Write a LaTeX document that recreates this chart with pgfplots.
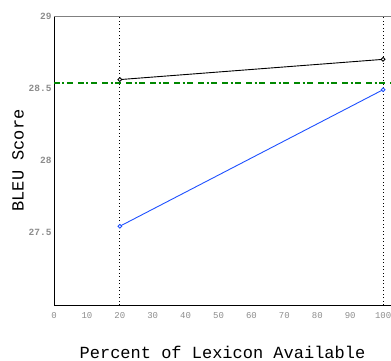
\documentclass[border=0pt]{standalone}
\usepackage{fontspec}
\setmainfont{Liberation Mono}
\setmonofont{Liberation Mono}
\usepackage{pgfplots}
\pgfplotsset{compat=1.18}
\definecolor{tickgray}{RGB}{140,140,140}
\definecolor{bleublue}{RGB}{30,80,255}
\definecolor{basegreen}{RGB}{0,136,0}
\begin{document}
\begin{tikzpicture}[x=1pt,y=1pt]
\useasboundingbox (-54pt,-55pt) rectangle (337pt,305pt);
\begin{axis}[
  at={(0pt,0pt)}, anchor=origin,
  scale only axis, width=337pt, height=289pt,
  xmin=0, xmax=102.4, ymin=27, ymax=29,
  xtick={0,10,...,100}, ytick={27.5,28,28.5,29},
  yticklabels={27.5,28,28.5,29},
  major tick length=0pt,
  axis line style={draw=none},
  /pgf/number format/assume math mode=true,
  xticklabel style={font=\fontsize{9}{9}\selectfont, text=tickgray, yshift=-4pt},
  yticklabel style={font=\fontsize{9.5}{9.5}\selectfont\bfseries, text=tickgray, xshift=1pt},
  xlabel={Percent of Lexicon Available},
  ylabel={BLEU Score},
  xlabel style={font=\fontsize{17}{17}\selectfont, at={(rel axis cs:0.5,0)}, anchor=center, yshift=-47pt},
  ylabel style={font=\fontsize{17}{17}\selectfont, at={(rel axis cs:0,0.5)}, anchor=center, yshift=36pt},
  clip=false,
]
\draw[black, line width=0.9pt] (rel axis cs:0,1) -- (rel axis cs:0,0) -- (rel axis cs:1,0);
\draw[gray, line width=0.9pt] (rel axis cs:0,1) -- (rel axis cs:1,1);
\draw[black, line width=0.8pt, dash pattern=on 1pt off 2.5pt] (axis cs:20,27) -- (axis cs:20,29);
\draw[black, line width=0.8pt, dash pattern=on 1pt off 2.5pt] (axis cs:100,27) -- (axis cs:100,29);
\addplot[basegreen, line width=2.4pt, dash pattern=on 6pt off 2.5pt on 2pt off 2.5pt on 6pt off 5pt] coordinates {(0,28.535) (102.4,28.535)};
\addplot[black, line width=0.9pt, mark=*, mark size=1.9pt, mark options={solid, fill=white, line width=0.9pt}] coordinates {(20,28.56) (100,28.70)};
\addplot[bleublue, line width=0.9pt, mark=*, mark size=1.9pt, mark options={solid, fill=white, line width=0.9pt}] coordinates {(20,27.545) (100,28.49)};
\end{axis}
\end{tikzpicture}
\end{document}
